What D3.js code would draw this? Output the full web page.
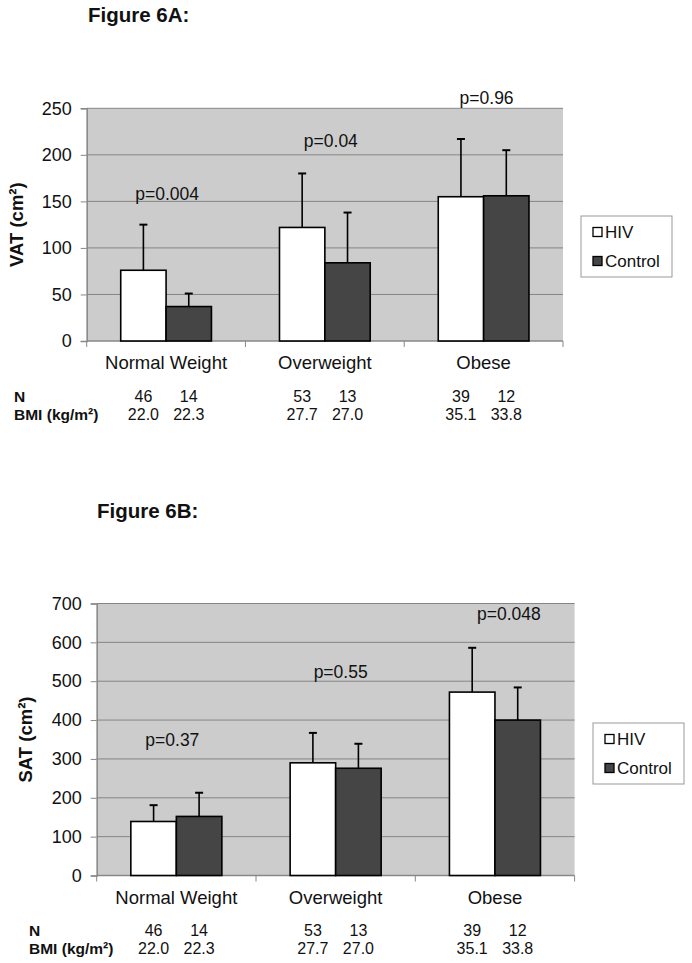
<!DOCTYPE html>
<html>
<head>
<meta charset="utf-8">
<script src="https://cdn.jsdelivr.net/npm/d3@7"></script>
<style>
  html, body { margin: 0; padding: 0; background: #fff; }
  svg { display: block; font-family: Arial, "Liberation Sans", sans-serif; }
</style>
</head>
<body>
<svg id="chart" width="692" height="963"></svg>
<script>
// ---------- data ----------
const categories = ["Normal Weight", "Overweight", "Obese"];
const seriesNames = ["HIV", "Control"];

// Figure 6A: VAT (cm²)
const vatHIV = [76, 122, 155];
const vatHIVErr = [125, 180, 217];      // top of error bar
const vatControl = [37, 84, 156];
const vatControlErr = [51, 138, 205];
const vatTicks = [0, 50, 100, 150, 200, 250];
const vatPLabels = ["p=0.004", "p=0.04", "p=0.96"];
const vatPAt = [158, 215, 261];         // value level of p label

// Figure 6B: SAT (cm²)
const satHIV = [139, 290, 472];
const satHIVErr = [181, 367, 586];
const satControl = [152, 276, 400];
const satControlErr = [213, 339, 484];
const satTicks = [0, 100, 200, 300, 400, 500, 600, 700];
const satPLabels = ["p=0.37", "p=0.55", "p=0.048"];
const satPAt = [349, 523, 673];

// table under charts
const nHIV = ["46", "53", "39"];
const nControl = ["14", "13", "12"];
const bmiHIV = ["22.0", "27.7", "35.1"];
const bmiControl = ["22.3", "27.0", "33.8"];

// ---------- drawing ----------
const svg = d3.select("#chart");
const TXT = "#111";

function drawPanel(cfg) {
  const g = svg.append("g");
  const x = d3.scaleBand().domain(categories).range([cfg.left, cfg.right]).padding(0);
  const xs = d3.scaleBand().domain(seriesNames).range([0, x.bandwidth()])
    .paddingInner(0).paddingOuter(0.75);
  const y = d3.scaleLinear().domain([0, cfg.yMax]).range([cfg.bottom, cfg.top]);

  // title
  svg.append("text").attr("x", cfg.titleX).attr("y", cfg.titleY)
    .attr("font-size", 20.5).attr("font-weight", "bold").attr("fill", TXT)
    .text(cfg.title);

  // plot background
  g.append("rect").attr("x", cfg.left).attr("y", cfg.top)
    .attr("width", cfg.right - cfg.left).attr("height", cfg.bottom - cfg.top)
    .attr("fill", "#cccccc");

  // gridlines
  g.selectAll(".grid").data(cfg.ticks.filter(d => d > 0)).enter().append("line")
    .attr("x1", cfg.left).attr("x2", cfg.right)
    .attr("y1", d => y(d)).attr("y2", d => y(d))
    .attr("stroke", "#858585").attr("stroke-width", 1);

  // y axis
  const yAxis = d3.axisLeft(y).tickValues(cfg.ticks).tickSize(6).tickPadding(9);
  const ya = g.append("g").attr("transform", `translate(${cfg.left},0)`).call(yAxis);
  ya.select(".domain").attr("stroke", "#888").attr("stroke-width", 1.5);
  ya.selectAll(".tick line").attr("stroke", "#888");
  ya.selectAll(".tick text").attr("font-size", 18).attr("fill", TXT)
    .attr("font-family", "Arial, 'Liberation Sans', sans-serif");

  // x axis line and category ticks
  g.append("line").attr("x1", cfg.left).attr("x2", cfg.right)
    .attr("y1", cfg.bottom).attr("y2", cfg.bottom)
    .attr("stroke", "#888").attr("stroke-width", 1.5);
  const bounds = categories.map(c => x(c)).concat([cfg.right]);
  g.selectAll(".xt").data(bounds).enter().append("line")
    .attr("x1", d => d).attr("x2", d => d)
    .attr("y1", cfg.bottom).attr("y2", cfg.bottom + 6)
    .attr("stroke", "#888").attr("stroke-width", 1);

  // category labels
  g.selectAll(".cat").data(categories).enter().append("text")
    .attr("x", d => x(d) + x.bandwidth() / 2)
    .attr("y", cfg.bottom + 28)
    .attr("text-anchor", "middle").attr("font-size", 18.5).attr("fill", TXT)
    .text(d => d);

  // bars & error bars
  const series = [
    { name: "HIV", vals: cfg.hiv, errs: cfg.hivErr, fill: "#ffffff" },
    { name: "Control", vals: cfg.ctrl, errs: cfg.ctrlErr, fill: "#454545" }
  ];
  series.forEach(s => {
    const bx = (i) => x(categories[i]) + xs(s.name);
    const bw = xs.bandwidth();
    g.selectAll(null).data(s.errs).enter().append("line")
      .attr("x1", (d, i) => bx(i) + bw / 2).attr("x2", (d, i) => bx(i) + bw / 2)
      .attr("y1", (d, i) => y(s.vals[i])).attr("y2", d => y(d))
      .attr("stroke", "#000").attr("stroke-width", 1.6);
    g.selectAll(null).data(s.errs).enter().append("line")
      .attr("x1", (d, i) => bx(i) + bw / 2 - 4).attr("x2", (d, i) => bx(i) + bw / 2 + 4)
      .attr("y1", d => y(d)).attr("y2", d => y(d))
      .attr("stroke", "#000").attr("stroke-width", 2);
    g.selectAll(null).data(s.vals).enter().append("rect")
      .attr("x", (d, i) => bx(i)).attr("width", bw)
      .attr("y", d => y(d)).attr("height", d => cfg.bottom - y(d))
      .attr("fill", s.fill).attr("stroke", "#000").attr("stroke-width", 1.6);
  });

  // p labels
  g.selectAll(".p").data(cfg.pLabels).enter().append("text")
    .attr("x", (d, i) => x(categories[i]) + x.bandwidth() / 2 + cfg.pDx[i])
    .attr("y", (d, i) => y(cfg.pAt[i]))
    .attr("dy", "0.35em")
    .attr("text-anchor", "middle").attr("font-size", 17.5).attr("fill", TXT)
    .text(d => d);

  // y axis title
  svg.append("text")
    .attr("transform", `translate(${cfg.yTitleX},${(cfg.top + cfg.bottom) / 2}) rotate(-90)`)
    .attr("text-anchor", "middle").attr("dy", "0.35em")
    .attr("font-size", 18.5).attr("font-weight", "bold").attr("fill", TXT)
    .text(cfg.yTitle);

  // legend
  const lg = svg.append("g").attr("transform", `translate(${cfg.legX},${cfg.legY})`);
  lg.append("rect").attr("x", 0).attr("y", 0).attr("width", 91).attr("height", 61)
    .attr("fill", "#fff").attr("stroke", "#999").attr("stroke-width", 1);
  series.forEach((s, i) => {
    const cy = 16 + i * 29;
    lg.append("rect").attr("x", 12).attr("y", cy - 4.5).attr("width", 9).attr("height", 9)
      .attr("fill", s.fill).attr("stroke", "#000").attr("stroke-width", 1.3);
    lg.append("text").attr("x", 24).attr("y", cy).attr("dy", "0.35em")
      .attr("font-size", 17).attr("fill", TXT).text(s.name);
  });

  // N / BMI table
  const tx = (i, name) => x(categories[i]) + xs(name) + xs.bandwidth() / 2;
  svg.append("text").attr("x", cfg.rowLabelX).attr("y", cfg.nY)
    .attr("font-size", 15.5).attr("font-weight", "bold").attr("fill", TXT).text("N");
  svg.append("text").attr("x", cfg.rowLabelX).attr("y", cfg.bmiY)
    .attr("font-size", 15.5).attr("font-weight", "bold").attr("fill", TXT).text("BMI (kg/m²)");
  [[nHIV, "HIV", cfg.nY], [nControl, "Control", cfg.nY],
   [bmiHIV, "HIV", cfg.bmiY], [bmiControl, "Control", cfg.bmiY]].forEach(([arr, name, yy]) => {
    svg.selectAll(null).data(arr).enter().append("text")
      .attr("x", (d, i) => tx(i, name)).attr("y", yy)
      .attr("text-anchor", "middle").attr("font-size", 16).attr("fill", TXT)
      .text(d => d);
  });
}

drawPanel({
  title: "Figure 6A:", titleX: 88, titleY: 22,
  left: 86.7, right: 563, top: 108.3, bottom: 341, yMax: 250,
  ticks: vatTicks, hiv: vatHIV, hivErr: vatHIVErr, ctrl: vatControl, ctrlErr: vatControlErr,
  pLabels: vatPLabels, pAt: vatPAt, pDx: [1, 6, 3],
  yTitle: "VAT (cm²)", yTitleX: 17,
  legX: 581, legY: 216,
  rowLabelX: 14, nY: 402, bmiY: 420
});

drawPanel({
  title: "Figure 6B:", titleX: 97, titleY: 518,
  left: 96.7, right: 574.6, top: 603.5, bottom: 875.5, yMax: 700,
  ticks: satTicks, hiv: satHIV, hivErr: satHIVErr, ctrl: satControl, ctrlErr: satControlErr,
  pLabels: satPLabels, pAt: satPAt, pDx: [-4, 5, 14],
  yTitle: "SAT (cm²)", yTitleX: 26,
  legX: 593, legY: 723,
  rowLabelX: 29, nY: 936, bmiY: 954
});
</script>
</body>
</html>
